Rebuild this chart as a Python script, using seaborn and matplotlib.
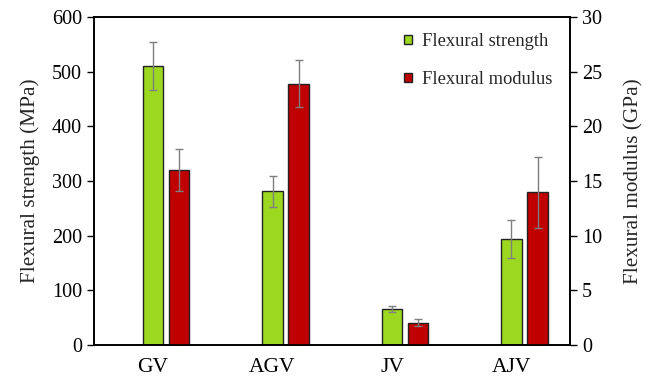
import numpy as np
import pandas as pd
import matplotlib
matplotlib.use("Agg")
import matplotlib.pyplot as plt
import seaborn as sns

categories = ["GV", "AGV", "JV", "AJV"]
strength = [510, 281, 66, 194]          # MPa
strength_err = [44, 28, 6, 35]
modulus = [16.0, 23.9, 2.05, 13.95]     # GPa
modulus_err = [1.95, 2.15, 0.33, 3.25]

sns.set_theme(style="white")
plt.rcParams['font.family'] = ['Liberation Serif', 'DejaVu Serif']

fig = plt.figure(figsize=(6.54, 3.85), dpi=100)
ax = fig.add_axes([94/654, 1-345/385, (570-94)/654, (345-17)/385])
ax2 = ax.twinx()

idx = np.arange(len(categories))
offset = 0.218
bw = 0.17
green = "#9CD81F"
red = "#C00000"

df_s = pd.DataFrame({"pos": idx.astype(float), "val": strength})
df_m = pd.DataFrame({"pos": idx + offset, "val": modulus})

sns.barplot(data=df_s, x="pos", y="val", native_scale=True, width=bw,
            color=green, saturation=1, edgecolor="#222222", linewidth=1.0,
            errorbar=None, ax=ax, label="Flexural strength")
sns.barplot(data=df_m, x="pos", y="val", native_scale=True, width=bw,
            color=red, saturation=1, edgecolor="#222222", linewidth=1.0,
            errorbar=None, ax=ax2, label="Flexural modulus")
for a in (ax, ax2):
    if a.get_legend() is not None:
        a.get_legend().remove()

ax.errorbar(df_s["pos"], strength, yerr=strength_err, fmt="none",
            ecolor="#7f7f7f", elinewidth=1.0, capsize=2.8, capthick=1.0)
ax2.errorbar(df_m["pos"], modulus, yerr=modulus_err, fmt="none",
             ecolor="#7f7f7f", elinewidth=1.0, capsize=2.8, capthick=1.0)

ax.set_xlim(-0.494, 3.49)
ax.set_ylim(0, 600)
ax2.set_ylim(0, 30)
ax.set_yticks(range(0, 601, 100))
ax2.set_yticks(range(0, 31, 5))
ax.set_xticks(idx)
ax.set_xticklabels(categories)

ax.set_xlabel("")
ax.set_ylabel("Flexural strength (MPa)", fontsize=15.3, labelpad=9)
ax2.set_ylabel("Flexural modulus (GPa)", fontsize=15.3, labelpad=16)

for a in (ax, ax2):
    for s in a.spines.values():
        s.set_color("black")
        s.set_linewidth(1.2)
ax.tick_params(axis="x", length=0, labelsize=15.5, pad=9, colors="black")
ax.tick_params(axis="y", direction="out", length=5, width=1, labelsize=14.5,
               left=True, colors="black")
ax2.tick_params(axis="y", direction="out", length=5, width=1, labelsize=14.5,
                right=True, colors="black")

h1, l1 = ax.get_legend_handles_labels()
h2, l2 = ax2.get_legend_handles_labels()
leg = ax2.legend(h1 + h2, l1 + l2, loc="upper left",
                 bbox_to_anchor=((404-94)/476, 1 - (33-17)/328),
                 frameon=False, fontsize=13.3, handlelength=0.43, handleheight=0.43,
                 handletextpad=0.55, labelspacing=1.15, borderaxespad=0,
                 borderpad=0)

fig.savefig("out.png", dpi=100)
